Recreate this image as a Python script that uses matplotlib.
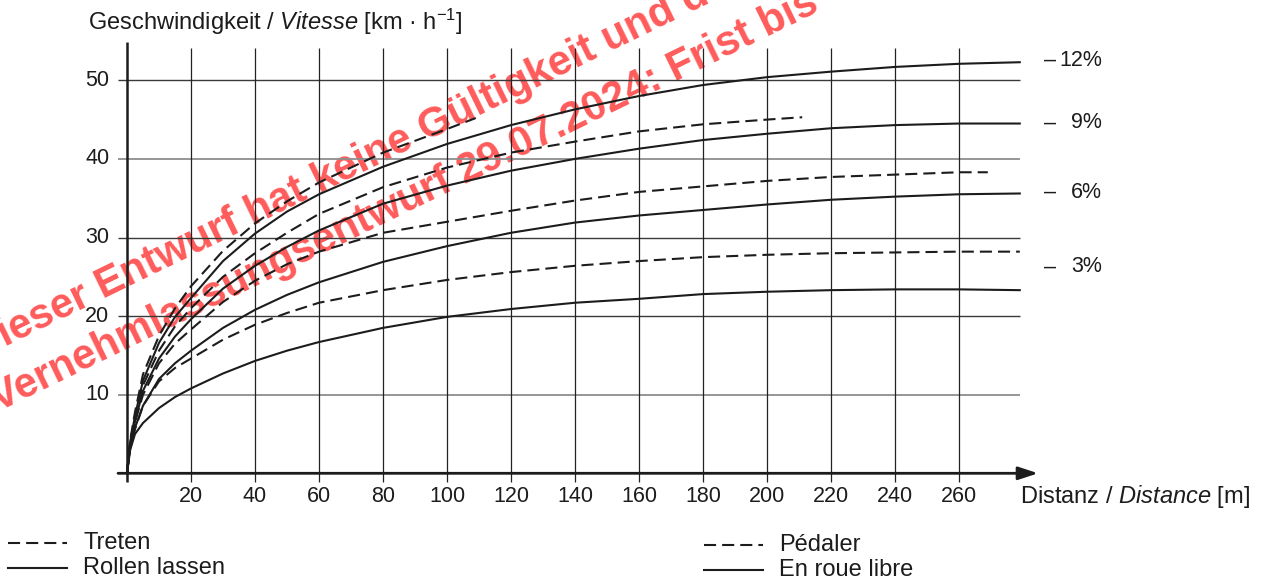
"""Geschwindigkeit über Distanz bei Gefälle 3/6/9/12 % — Treten vs. Rollen lassen."""

import matplotlib

matplotlib.use("Agg")
import matplotlib.pyplot as plt

plt.rcParams["font.family"] = ["Liberation Sans", "DejaVu Sans"]
plt.rcParams["mathtext.fontset"] = "custom"
plt.rcParams["mathtext.rm"] = "Liberation Sans"
plt.rcParams["mathtext.it"] = "Liberation Sans:italic"

# ── Daten ─────────────────────────────────────────────────────────────────────
dist = [0, 1, 2.5, 5, 10, 15, 20, 30, 40, 50, 60, 80, 100, 120, 140, 160,
        180, 200, 220, 240, 260, 279]

roll_3 = [0, 3.0, 5.0, 6.4, 8.3, 9.7, 10.8, 12.7, 14.3, 15.6, 16.7, 18.5, 19.9,
          20.9, 21.7, 22.2, 22.8, 23.1, 23.3, 23.4, 23.4, 23.3]
roll_6 = [0, 3.4, 5.8, 8.6, 12.0, 14.0, 15.6, 18.5, 20.8, 22.7, 24.3, 26.9, 28.9,
          30.6, 31.9, 32.8, 33.5, 34.2, 34.8, 35.2, 35.5, 35.6]
roll_9 = [0, 3.8, 6.6, 10.5, 14.6, 17.4, 19.6, 23.5, 26.4, 28.8, 30.9, 34.3, 36.6,
          38.5, 40.0, 41.3, 42.4, 43.2, 43.9, 44.3, 44.5, 44.5]
roll_12 = [0, 4.0, 7.3, 11.8, 16.6, 19.9, 22.3, 27.0, 30.5, 33.3, 35.5, 39.0, 41.9,
           44.3, 46.3, 48.0, 49.4, 50.4, 51.1, 51.7, 52.1, 52.3]

tret_3_x = dist
tret_3 = [0, 3.2, 5.6, 8.6, 11.7, 13.4, 14.6, 17.0, 18.9, 20.4, 21.7, 23.3, 24.6,
          25.6, 26.4, 27.0, 27.5, 27.8, 28.0, 28.1, 28.2, 28.2]
tret_6_x = [0, 1, 2.5, 5, 10, 15, 20, 30, 40, 50, 60, 80, 100, 120, 140, 160,
            180, 200, 220, 240, 260, 269]
tret_6 = [0, 3.8, 6.5, 10.0, 14.0, 16.5, 18.3, 21.8, 24.5, 26.6, 28.2, 30.6, 32.0,
          33.4, 34.7, 35.8, 36.5, 37.2, 37.7, 38.0, 38.3, 38.3]
tret_9_x = [0, 1, 2.5, 5, 10, 15, 20, 30, 40, 50, 60, 80, 100, 120, 140, 160,
            180, 200, 211]
tret_9 = [0, 4.0, 7.0, 11.2, 15.6, 18.7, 21.0, 25.0, 28.0, 30.6, 33.0, 36.4, 38.9,
          40.8, 42.2, 43.5, 44.4, 45.0, 45.3]
tret_12_x = [0, 1, 2.5, 5, 10, 15, 20, 30, 40, 50, 60, 80, 100, 109]
tret_12 = [0, 4.2, 7.8, 12.6, 17.5, 21.0, 23.8, 28.3, 31.8, 34.6, 37.0, 40.8, 43.8,
           45.2]

x_ticks = [20, 40, 60, 80, 100, 120, 140, 160, 180, 200, 220, 240, 260]
y_ticks = [10, 20, 30, 40, 50]
slope_labels = ["12%", "9%", "6%", "3%"]

INK = "#1c1c1c"
DASH = (0, (5.8, 2.9))

fig = plt.figure(figsize=(12.64, 5.83), dpi=100)

# Hintergrund-Ebene in Pixelkoordinaten (Wasserzeichen, Legende, Achsentitel)
ov = fig.add_axes([0, 0, 1, 1], zorder=0)
ov.set_xlim(0, 1264)
ov.set_ylim(583, 0)
ov.axis("off")

ax = fig.add_axes([127 / 1264, (583 - 473.3) / 583, 285 * 3.2 / 1264, 55 * 7.86 / 583],
                  zorder=1)
ax.set_xlim(0, 285)
ax.set_ylim(0, 55)
ax.axis("off")

# ── Wasserzeichen ─────────────────────────────────────────────────────────────
wm = dict(rotation=26, rotation_mode="anchor", ha="left", va="baseline",
          fontsize=30, fontweight="bold", color="#ff5b5b")
ov.text(-22, 360, "Dieser Entwurf hat keine Gültigkeit und darf", **wm)
ov.text(-2, 412, "Vernehmlassungsentwurf 29.07.2024: Frist bis", **wm)

# ── Raster ────────────────────────────────────────────────────────────────────
for yv in y_ticks:
    gray = yv in (10, 40)
    ax.plot([-2.8, 279], [yv, yv], color="#8e8e8e" if gray else "#3a3a3a",
            lw=1.3 if gray else 1.0, clip_on=False, solid_capstyle="butt")
    ax.text(-5.5, yv, str(yv), ha="right", va="center", fontsize=15.5, color=INK)
for xv in x_ticks:
    ax.plot([xv, xv], [-1.1, 54.1], color="#222222", lw=0.9, clip_on=False,
            solid_capstyle="butt")
    ax.text(xv, -3.0, str(xv), ha="center", va="center", fontsize=15.5, color=INK)

# Achsen
ax.plot([0, 0], [-1.1, 54.9], color=INK, lw=1.8, clip_on=False, solid_capstyle="butt")
ax.annotate("", xy=(284.7, 0), xytext=(-2.8, 0), annotation_clip=False,
            arrowprops=dict(arrowstyle="-|>,head_length=0.85,head_width=0.28",
                            mutation_scale=14, lw=2.0, color=INK,
                            shrinkA=0, shrinkB=0))

# ── Kurven ────────────────────────────────────────────────────────────────────
for yy in (roll_3, roll_6, roll_9, roll_12):
    ax.plot(dist, yy, color=INK, lw=1.5, clip_on=False, solid_joinstyle="round")
for xx, yy in ((tret_3_x, tret_3), (tret_6_x, tret_6), (tret_9_x, tret_9),
               (tret_12_x, tret_12)):
    ax.plot(xx, yy, color=INK, lw=1.5, ls=DASH, clip_on=False)

# Gefälle-Beschriftung rechts
for lab, py in zip(slope_labels, [60, 123, 192, 267]):
    ov.text(1050, py, "–", ha="center", va="center", fontsize=15.5, color=INK)
    ov.text(1102, py, lab, ha="right", va="center", fontsize=15.5, color=INK)

# Achsentitel
ov.text(88, 30, r"Geschwindigkeit / $\mathit{Vitesse}$ [km · h$^{-1}$]",
        ha="left", va="baseline", fontsize=17, color=INK)
ov.text(1020, 497, r"Distanz / $\mathit{Distance}$ [m]",
        ha="left", va="center", fontsize=17, color=INK)

# ── Legende ───────────────────────────────────────────────────────────────────
legend_rows = [
    (8, 543, DASH, "Treten"),
    (8, 568, "-", "Rollen lassen"),
    (704, 545, DASH, "Pédaler"),
    (704, 570, "-", "En roue libre"),
]
for lx, ly, ls, txt in legend_rows:
    ov.plot([lx, lx + 59], [ly, ly], color=INK, lw=1.5, ls=ls)
    ov.text(lx + 75, ly, txt, ha="left", va="center", fontsize=17, color=INK)

fig.savefig("out.png", dpi=100)
plt.close(fig)
